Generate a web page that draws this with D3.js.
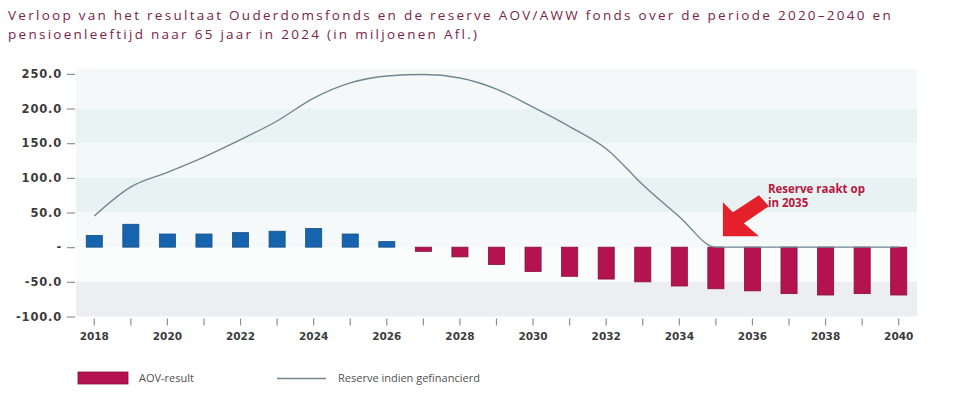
<!DOCTYPE html>
<html><head><meta charset="utf-8">
<script src="https://cdn.jsdelivr.net/npm/d3@7"></script>
<style>
body{margin:0;background:#fff;}
svg{display:block;}
</style></head>
<body><svg id="c" width="966" height="403"></svg>
<script>
const titleLines = [
  "Verloop van het resultaat Ouderdomsfonds en de reserve AOV/AWW fonds over de periode 2020–2040 en",
  "pensioenleeftijd naar 65 jaar in 2024 (in miljoenen Afl.)"
];
const years = [2018,2019,2020,2021,2022,2023,2024,2025,2026,2027,2028,2029,2030,2031,2032,2033,2034,2035,2036,2037,2038,2039,2040];
const aovResult = [17,33,19,19,21,23,27,19,8,-6,-14,-25,-35,-42,-46,-50,-56,-60,-63,-67,-69,-67,-69];
const reserve = [45,87,108,130,155,182,215,237,247,249,244,228,202,174,142,90,44,0,0,0,0,0,0];
const yTicks = [250,200,150,100,50,0,-50,-100];
const yTickLabels = ["250.0","200.0","150.0","100.0","50.0","-","-50.0","-100.0"];
const xLabelYears = [2018,2020,2022,2024,2026,2028,2030,2032,2034,2036,2038,2040];
const bandStops = [257,200,150,100,50,0,-50,-100];
const bandColors = ["#f4f8f9","#eaf3f4","#f3f8f9","#e9f2f3","#f5f9fa","#fbfcfc","#eceef0"];
const legendLabels = ["AOV-result","Reserve indien gefinancierd"];
const annotationLines = ["Reserve raakt op","in 2035"];
const annotationYear = 2035;

const svg = d3.select("#c");
const x = d3.scaleBand().domain(years).range([76,917]).paddingInner(0.56).paddingOuter(0.28);
const y = d3.scaleLinear().domain([-100,257]).range([316.5,69]);
const cx = d => x(d) + x.bandwidth()/2;

// title
const title = svg.append("g").attr("fill","#7a2447").attr("font-family","Open Sans, sans-serif").attr("font-size",13.5);
titleLines.forEach((t,i)=>{
  title.append("text").attr("x",8).attr("y",20+i*18.5).text(t);
});
// spread letters so the first line fills the reference width
const t0 = title.select("text").node();
const w0 = t0.getComputedTextLength();
const ls = (885 - w0) / titleLines[0].length;
title.attr("letter-spacing", ls);

// background bands
const plotL = x.range()[0], plotR = x.range()[1];
bandColors.forEach((c,i)=>{
  svg.append("rect").attr("x",plotL).attr("width",plotR-plotL)
    .attr("y",y(bandStops[i])).attr("height",y(bandStops[i+1])-y(bandStops[i]))
    .attr("fill",c);
});

// y axis
const yAxis = d3.axisLeft(y).tickValues(yTicks).tickSize(8).tickPadding(5)
  .tickFormat((d,i)=>yTickLabels[i]);
const gy = svg.append("g").attr("transform",`translate(${plotL-1},0)`).call(yAxis);
gy.select(".domain").remove();
gy.selectAll(".tick line").attr("stroke","#8f8f8f").attr("stroke-width",1.2);
gy.selectAll(".tick text").attr("fill","#3c3c3c").attr("font-family","DejaVu Sans, sans-serif")
  .attr("font-weight","bold").attr("font-size",11.5).attr("letter-spacing",0.8);

// x axis
const xAxis = d3.axisBottom(x).tickSize(7).tickPadding(7)
  .tickFormat(d=> xLabelYears.includes(d) ? String(d) : "");
const gx = svg.append("g").attr("transform",`translate(0,${y(-100)+2})`).call(xAxis);
gx.select(".domain").remove();
gx.selectAll(".tick line").attr("stroke","#8f8f8f").attr("stroke-width",1.2);
gx.selectAll(".tick text").attr("fill","#3c3c3c").attr("font-family","DejaVu Sans, sans-serif")
  .attr("font-weight","bold").attr("font-size",10.5);

// bars
svg.append("g").selectAll("rect").data(years).join("rect")
  .attr("x",d=>x(d)).attr("width",x.bandwidth())
  .attr("y",(d,i)=>y(Math.max(0,aovResult[i])))
  .attr("height",(d,i)=>Math.abs(y(aovResult[i])-y(0)))
  .attr("fill",(d,i)=>aovResult[i]>=0?"#1664ae":"#b5134f")
  .attr("stroke",(d,i)=>aovResult[i]>=0?"#1a4f82":"#861038")
  .attr("stroke-width",0.8);

// line
const line = d3.line().x((d,i)=>cx(years[i])).y(d=>y(d)).curve(d3.curveMonotoneX);
svg.append("path").datum(reserve).attr("d",line).attr("fill","none")
  .attr("stroke","#6f8790").attr("stroke-width",1.4);

// annotation arrow
const tipX = cx(annotationYear)+7, tipY = y(0)-11;
const arrow = [[0,0],[0,-34],[10,-24],[36,-41],[46,-30],[21,-13],[36,0]];
svg.append("polygon").attr("points",arrow.map(p=>[tipX+p[0],tipY+p[1]].join(",")).join(" "))
  .attr("fill","#e4202a");
const ann = svg.append("g").attr("fill","#b8173f").attr("font-family","Open Sans, sans-serif")
  .attr("font-weight","bold").attr("font-size",11.5);
annotationLines.forEach((t,i)=>{
  ann.append("text").attr("x",tipX+45).attr("y",tipY-43+i*13.5).text(t);
});

// legend
const lg = svg.append("g").attr("font-family","Open Sans, sans-serif").attr("font-size",11).attr("fill","#505050");
lg.append("rect").attr("x",78).attr("y",372).attr("width",50).attr("height",12).attr("fill","#b5134f").attr("stroke","#861038").attr("stroke-width",0.8);
lg.append("text").attr("x",139).attr("y",382).text(legendLabels[0]);
lg.append("line").attr("x1",277).attr("x2",326).attr("y1",378.5).attr("y2",378.5).attr("stroke","#6f8790").attr("stroke-width",1.4);
lg.append("text").attr("x",338).attr("y",382).text(legendLabels[1]);
</script>
</body></html>
